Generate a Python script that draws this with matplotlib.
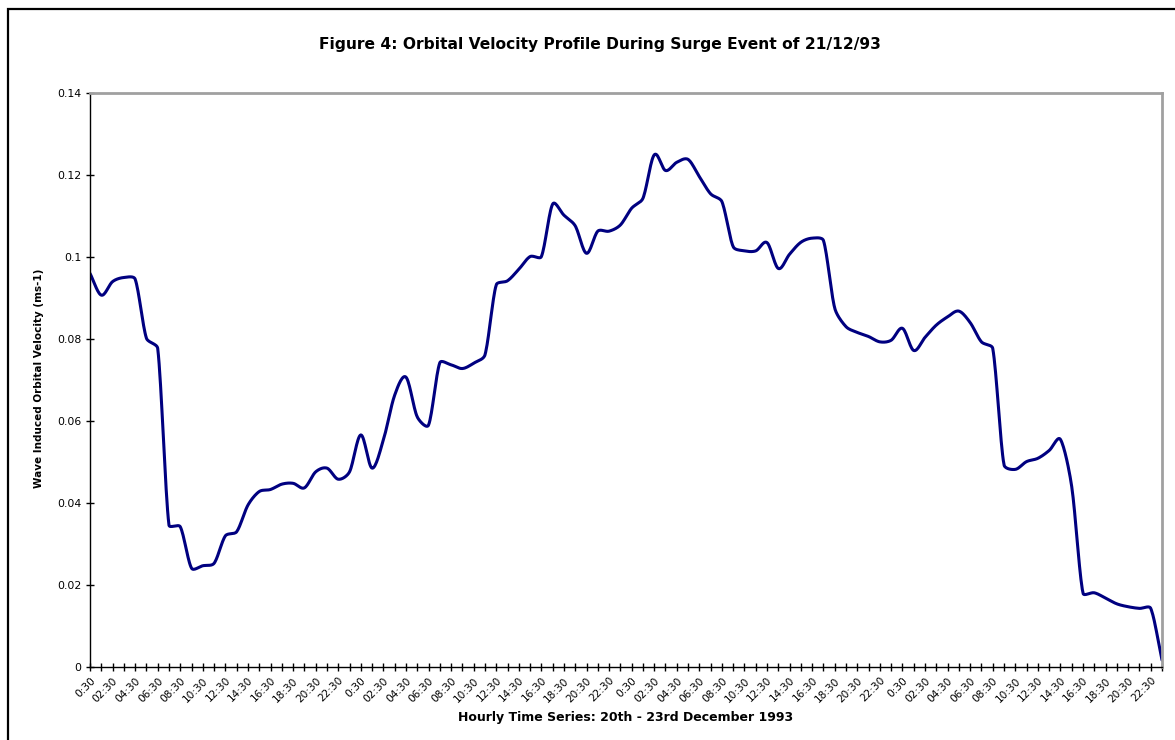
import numpy as np
import matplotlib
matplotlib.use("Agg")
import matplotlib.pyplot as plt
from matplotlib.patches import Rectangle

plt.rcParams['font.family'] = ['DejaVu Sans']

# hourly readings, 0:30 on the 20th to 23:30 on the 23rd
hours = list(range(96))
velocity = [
    0.0960, 0.0907, 0.0940, 0.0950, 0.0946, 0.0802, 0.0777, 0.0346,
    0.0342, 0.0241, 0.0247, 0.0253, 0.0320, 0.0330, 0.0395, 0.0428,
    0.0433, 0.0446, 0.0448, 0.0437, 0.0476, 0.0485, 0.0458, 0.0476,
    0.0566, 0.0485, 0.0554, 0.0663, 0.0707, 0.0610, 0.0590, 0.0742,
    0.0737, 0.0728, 0.0741, 0.0761, 0.0932, 0.0942, 0.0970, 0.1001,
    0.1001, 0.1129, 0.1102, 0.1076, 0.1009, 0.1063, 0.1063, 0.1078,
    0.1119, 0.1143, 0.1249, 0.1211, 0.1231, 0.1238, 0.1196, 0.1154,
    0.1135, 0.1025, 0.1015, 0.1015, 0.1035, 0.0972, 0.1007, 0.1036,
    0.1046, 0.1040, 0.0875, 0.0830, 0.0816, 0.0806, 0.0793, 0.0797,
    0.0826, 0.0772, 0.0804, 0.0834, 0.0854, 0.0868, 0.0840, 0.0793,
    0.0777, 0.0493, 0.0482, 0.0501, 0.0509, 0.0528, 0.0555, 0.0440,
    0.0180, 0.0181, 0.0168, 0.0154, 0.0147, 0.0143, 0.0143, 0.0017,
]
tick_labels = [("0:30" if (h % 24) == 0 else "%02d:30" % (h % 24)) if h % 2 == 0 else ""
               for h in hours]
yticks = [0, 0.02, 0.04, 0.06, 0.08, 0.1, 0.12, 0.14]
ytick_labels = ["0", "0.02", "0.04", "0.06", "0.08", "0.1", "0.12", "0.14"]


def smooth(x, y, sx, sy, s=0.33, n=16):
    # Bezier smoothing in screen units (Catmull-Rom handles, capped by segment length)
    P = np.column_stack([np.asarray(x, float) * sx, np.asarray(y, float) * sy])
    T = np.empty_like(P)
    T[1:-1] = (P[2:] - P[:-2]) / 6
    T[0] = (P[1] - P[0]) / 3
    T[-1] = (P[-1] - P[-2]) / 3
    L = np.linalg.norm(T, axis=1)
    U = T / L[:, None]
    t = np.linspace(0, 1, n, endpoint=False)[:, None]
    pts = []
    for i in range(len(P) - 1):
        d = np.linalg.norm(P[i + 1] - P[i])
        b0, b3 = P[i], P[i + 1]
        b1 = b0 + min(L[i], s * d) * U[i]
        b2 = b3 - min(L[i + 1], s * d) * U[i + 1]
        pts.append((1 - t) ** 3 * b0 + 3 * (1 - t) ** 2 * t * b1
                   + 3 * (1 - t) * t ** 2 * b2 + t ** 3 * b3)
    pts.append(P[-1][None, :])
    pts = np.vstack(pts)
    return pts[:, 0] / sx, pts[:, 1] / sy


fig = plt.figure(figsize=(11.75, 7.4), dpi=100)
fig.patches.append(Rectangle((8 / 1175, -0.1), 1.2, (740 - 9) / 740 + 0.1,
                             transform=fig.transFigure, fill=False,
                             edgecolor='black', linewidth=1.6))

ax = fig.add_axes([90 / 1175, 73 / 740, 1072 / 1175, 574 / 740])
cx, cy = smooth(hours, velocity, 1072 / 95, 574 / 0.14)
ax.plot(cx, cy, color='#000080', linewidth=2.2, solid_capstyle='round')

ax.set_xlim(0, 95)
ax.set_ylim(0, 0.14)
ax.set_xticks(hours)
ax.set_xticklabels(tick_labels, rotation=45, ha='right', rotation_mode='anchor',
                   fontsize=7.6)
ax.set_yticks(yticks)
ax.set_yticklabels(ytick_labels, fontsize=7.8)
ax.tick_params(axis='both', direction='inout', length=6, width=1, pad=3)

for side in ('top', 'right'):
    ax.spines[side].set_color('#a0a0a0')
    ax.spines[side].set_linewidth(2)
for side in ('left', 'bottom'):
    ax.spines[side].set_color('black')
    ax.spines[side].set_linewidth(1)

fig.text(0.511, 1 - 45 / 740, "Figure 4: Orbital Velocity Profile During Surge Event of 21/12/93",
         ha='center', va='center', fontsize=11.2, fontweight='bold')
fig.text(626 / 1175, 1 - 718 / 740, "Hourly Time Series: 20th - 23rd December 1993",
         ha='center', va='center', fontsize=9, fontweight='bold')
fig.text(39 / 1175, 1 - 378 / 740, "Wave Induced Orbital Velocity (ms-1)",
         ha='center', va='center', rotation=90, fontsize=7.5, fontweight='bold')

fig.savefig("out.png", dpi=100)
